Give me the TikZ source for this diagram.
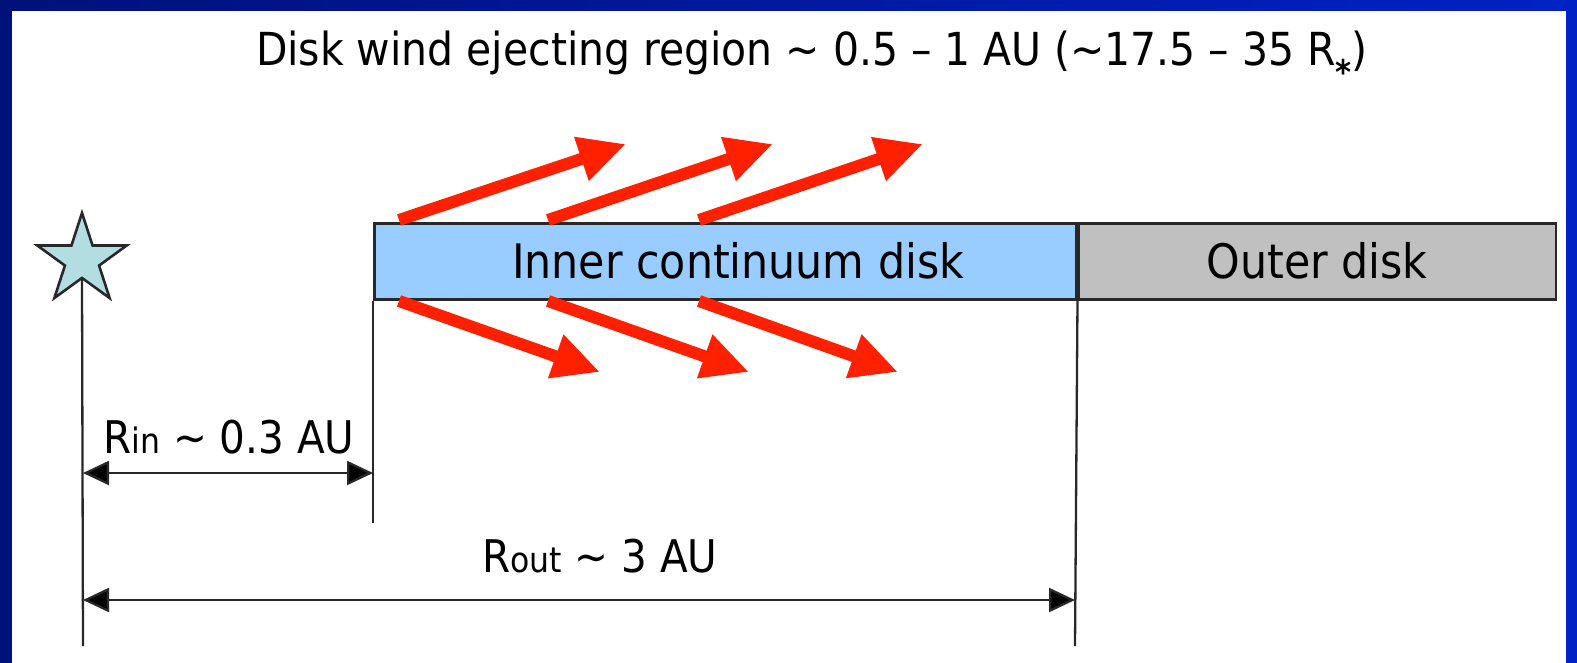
\documentclass[tikz,border=0pt]{standalone}
\usepackage{fontspec}
\setmainfont{DejaVu Sans Condensed}
\usetikzlibrary{arrows.meta,shapes.geometric}

\definecolor{frameL}{RGB}{0,17,122}
\definecolor{frameR}{RGB}{0,34,196}
\definecolor{innerblue}{RGB}{153,204,255}
\definecolor{outergray}{RGB}{192,192,192}
\definecolor{windred}{RGB}{255,32,0}
\definecolor{starfill}{RGB}{178,222,226}
\definecolor{ink}{RGB}{40,40,40}

\newcommand{\titletext}{\fontsize{45.5}{54}\selectfont}
\newcommand{\disktext}{\fontsize{47.5}{56}\selectfont}
\newcommand{\dimtext}{\fontsize{45}{54}\selectfont}
\newcommand{\subtext}{\fontsize{35}{42}\selectfont}
\newcommand{\startext}{\fontsize{34}{40}\selectfont}

\tikzset{
  diskbox/.style={draw=ink, line width=2.5pt, inner sep=0pt, anchor=north west,
    minimum height=76pt, font=\disktext},
  guide/.style={draw=ink, line width=2.3pt},
  dimarrow/.style={draw=ink, line width=2.3pt,
    {Triangle[length=26pt,width=24pt,fill=black]}-{Triangle[length=26pt,width=24pt,fill=black]}},
  wind/.style={draw=windred, line width=12pt,
    -{Triangle[length=47pt,width=43pt,fill=windred]}},
  label/.style={inner sep=0pt, text=black},
}

\begin{document}
\begin{tikzpicture}[x=1pt,y=-1pt]
  \useasboundingbox (0,0) rectangle (1577,662);
  % blue frame round the white slide
  \fill[left color=frameL, right color=frameR] (0,0) rectangle (1577,662);
  \fill[white] (12,11) rectangle (1566,664);

  % title
  \node[label, font=\titletext] (title) at (812,58)
    {Disk wind ejecting region \textasciitilde{} 0.5 – 1 AU (\textasciitilde 17.5 – 35 R\raisebox{-0.42em}{\startext\bfseries *})};

  % the two disk zones
  \node[diskbox, fill=innerblue, minimum width=702pt] (inner) at (373,222) {};
  \node[label, font=\disktext] (innerlabel) at ([xshift=13pt]inner.center) {Inner continuum disk};
  \node[diskbox, fill=outergray, minimum width=477pt] (outer) at (inner.north east) {Outer disk};

  % the star
  \node[star, star points=5, star point ratio=2.618, minimum size=94pt, inner sep=0pt,
        draw=ink, line width=2.6pt, fill=starfill] (star) at (82,260) {};

  % guide lines
  \coordinate (starfoot) at (83,646);
  \coordinate (rinfoot) at (373,523);
  \coordinate (routfoot) at (1075,646);
  \draw[guide] (star.south) ++(0,-2) -- (starfoot);
  \draw[guide] (inner.south west) -- (rinfoot);
  \draw[guide] (inner.south east) -- (routfoot);

  % radius dimensions
  \coordinate (rinL) at (83,473);
  \coordinate (rinR) at (373,473);
  \coordinate (routL) at (83,600);
  \coordinate (routR) at (1075,600);
  \draw[dimarrow] (rinL) -- (rinR);
  \draw[dimarrow] (routL) -- (routR);
  \node[label, font=\dimtext] (rinlabel) at (229,437) {R{\subtext in} \textasciitilde{} 0.3 AU};
  \node[label, font=\dimtext] (routlabel) at (600,556) {R{\subtext out} \textasciitilde{} 3 AU};

  % wind streams leaving both faces of the inner disk
  \foreach \n/\tx/\hx/\lx in {1/399/626/600, 2/548/773/749, 3/699/923/898} {
    \coordinate (up\n a) at (\tx,220);
    \coordinate (up\n b) at (\hx,144);
    \coordinate (dn\n a) at (\tx,301);
    \coordinate (dn\n b) at (\lx,372);
    \draw[wind] (up\n a) -- (up\n b);
    \draw[wind] (dn\n a) -- (dn\n b);
  }
\end{tikzpicture}
\end{document}
